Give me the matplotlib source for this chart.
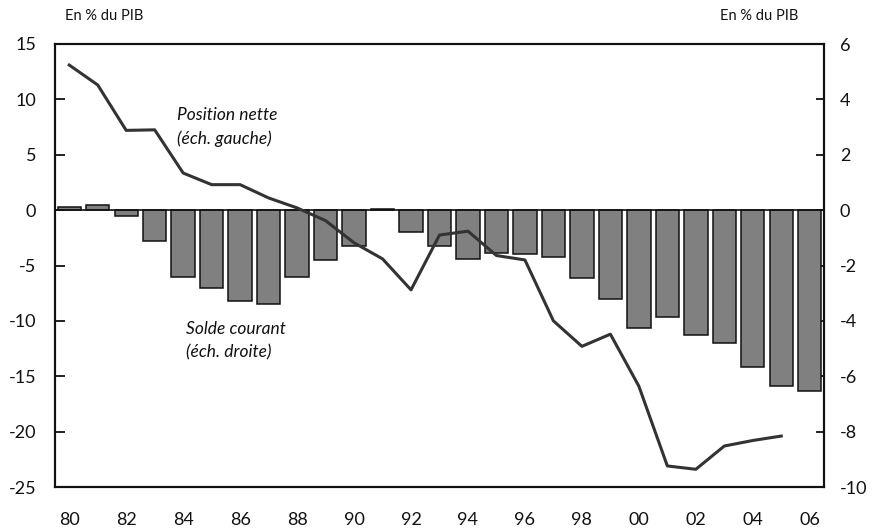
import matplotlib
matplotlib.use("Agg")
import matplotlib.pyplot as plt

plt.rcParams['font.family'] = ['Lato', 'DejaVu Sans']
plt.rcParams['axes.unicode_minus'] = False

years = list(range(1980, 2007))
# Solde courant (right axis, % of GDP)
solde_courant = [0.1, 0.2, -0.2, -1.1, -2.4, -2.8, -3.3, -3.4, -2.4, -1.8,
                 -1.3, 0.05, -0.8, -1.3, -1.75, -1.55, -1.6, -1.7, -2.45, -3.2,
                 -4.25, -3.85, -4.5, -4.8, -5.65, -6.35, -6.55]
# Position nette (left axis, % of GDP), 1980-2005
pos_years = list(range(1980, 2006))
position_nette = [13.1, 11.3, 7.2, 7.25, 3.35, 2.3, 2.3, 1.1, 0.2, -0.95,
                  -2.95, -4.4, -7.2, -2.25, -1.9, -4.1, -4.5, -10.0, -12.3, -11.2,
                  -15.9, -23.1, -23.4, -21.3, -20.8, -20.4]
xtick_years = list(range(1980, 2007, 2))
xtick_labels = ["%02d" % (y % 100) for y in xtick_years]
left_ticks = [15, 10, 5, 0, -5, -10, -15, -20, -25]
right_ticks = [6, 4, 2, 0, -2, -4, -6, -8, -10]

fig = plt.figure(figsize=(8.77, 5.31), dpi=100)
ax = fig.add_axes([55/877, 44/531, 769/877, 443/531])
ax2 = ax.twinx()

ax2.bar(years, solde_courant, width=0.82, color='#808080', edgecolor='#111111',
        linewidth=1.1, zorder=2)
ax2.axhline(0, color='#111111', linewidth=1.2, zorder=3)
ax.plot(pos_years, position_nette, color='#333333', linewidth=2.2, zorder=4)

ax.set_zorder(ax2.get_zorder() + 1)
ax.patch.set_visible(False)

ax.set_xlim(1979.5, 2006.5)
ax.set_ylim(-25, 15)
ax2.set_ylim(-10, 6)

ax.set_yticks(left_ticks)
ax.set_yticklabels([str(v) for v in left_ticks])
ax2.set_yticks(right_ticks)
ax2.set_yticklabels([str(v) for v in right_ticks])
ax.set_xticks(xtick_years)
ax.set_xticklabels(xtick_labels)

ax.tick_params(axis='y', direction='in', length=7, width=1.3, pad=13.5,
               labelsize=13, colors='#111111')
ax2.tick_params(axis='y', direction='in', length=6, width=1.3, pad=11.5,
                labelsize=13, colors='#111111')
ax.tick_params(axis='x', length=0, pad=18, labelsize=13, colors='#111111')

for a in (ax, ax2):
    for s in a.spines.values():
        s.set_linewidth(1.5)
        s.set_color('#111111')

ax.text(1983.8, 7.5, "Position nette\n(éch. gauche)", style='italic',
        fontsize=12.5, ha='left', va='center', linespacing=1.5, color='#111111')
ax.text(1984.1, -11.8, "Solde courant\n(éch. droite)", style='italic',
        fontsize=12.5, ha='left', va='center', linespacing=1.5, color='#111111')

fig.text(104/877, 1 - 16/531, "En % du PIB", ha='center', va='center',
         fontsize=10.5, color='#111111')
fig.text(759/877, 1 - 16/531, "En % du PIB", ha='center', va='center',
         fontsize=10.5, color='#111111')

fig.savefig("out.png", dpi=100)
